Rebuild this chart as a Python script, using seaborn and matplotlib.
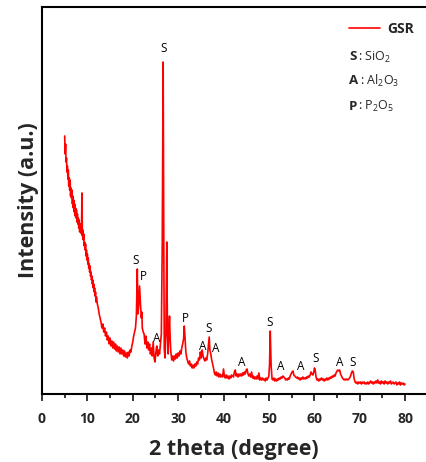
import matplotlib
matplotlib.use("Agg")
import matplotlib.pyplot as plt
import seaborn as sns
import pandas as pd

# ---- data (2theta in degrees, intensity in arbitrary units) ----
two_theta = [
    5.0, 5.1, 5.2, 5.3, 5.4, 5.5, 5.6, 5.7, 5.8, 5.9, 6.0, 6.1, 6.2, 6.3, 6.4, 6.5, 6.6, 6.7, 6.8, 6.9,
    7.0, 7.1, 7.2, 7.3, 7.4, 7.5, 7.6, 7.7, 7.8, 7.9, 8.0, 8.1, 8.2, 8.3, 8.4, 8.5, 8.6, 8.7, 8.8, 8.9,
    9.0, 9.1, 9.2, 9.3, 9.4, 9.5, 9.6, 9.7, 9.8, 9.9, 10.0, 10.1, 10.2, 10.3, 10.4, 10.5, 10.6, 10.7, 10.8, 10.9,
    11.0, 11.1, 11.2, 11.3, 11.4, 11.5, 11.6, 11.7, 11.8, 11.9, 12.0, 12.2, 12.4, 12.6, 12.8, 13.0, 13.2, 13.4, 13.6, 13.8,
    14.0, 14.2, 14.4, 14.6, 14.8, 15.0, 15.2, 15.4, 15.6, 15.8, 16.0, 16.2, 16.4, 16.6, 16.8, 17.0, 17.2, 17.4, 17.6, 17.8,
    18.0, 18.2, 18.4, 18.6, 18.8, 19.0, 19.2, 19.4, 19.6, 19.8, 20.0, 20.2, 20.4, 20.6, 20.8, 21.0, 21.15, 21.3, 21.5, 21.7,
    21.9, 22.0, 22.1, 22.3, 22.5, 22.7, 22.9, 23.1, 23.3, 23.5, 23.7, 23.9, 24.1, 24.3, 24.5, 24.7, 24.9, 25.1, 25.3, 25.5,
    25.7, 25.9, 26.1, 26.3, 26.5, 26.7, 26.85, 26.95, 27.1, 27.3, 27.5, 27.65, 27.8, 27.95, 28.1, 28.25, 28.4, 28.6, 28.8, 29.0,
    29.2, 29.4, 29.6, 29.8, 30.0, 30.2, 30.4, 30.6, 30.8, 31.0, 31.2, 31.35, 31.5, 31.7, 31.9, 32.1, 32.3, 32.5, 32.7, 32.9,
    33.1, 33.3, 33.5, 33.7, 33.9, 34.1, 34.3, 34.5, 34.7, 34.9, 35.1, 35.3, 35.5, 35.7, 35.9, 36.1, 36.3, 36.5, 36.7, 36.85,
    37.0, 37.2, 37.4, 37.6, 37.8, 38.0, 38.2, 38.4, 38.6, 38.8, 39.0, 39.2, 39.4, 39.6, 39.8, 40.0, 40.2, 40.4, 40.6, 40.8,
    41.0, 41.2, 41.4, 41.6, 41.8, 42.0, 42.2, 42.4, 42.6, 42.8, 43.0, 43.2, 43.4, 43.6, 43.8, 44.0, 44.2, 44.4, 44.6, 44.8,
    45.0, 45.2, 45.4, 45.6, 45.8, 46.0, 46.2, 46.4, 46.6, 46.8, 47.0, 47.2, 47.4, 47.6, 47.8, 48.0, 48.2, 48.4, 48.6, 48.8,
    49.0, 49.2, 49.4, 49.6, 49.8, 50.0, 50.15, 50.3, 50.5, 50.7, 50.9, 51.1, 51.3, 51.5, 51.7, 51.9, 52.1, 52.3, 52.5, 52.7,
    52.9, 53.1, 53.3, 53.5, 53.7, 53.9, 54.1, 54.3, 54.5, 54.7, 54.9, 55.1, 55.3, 55.5, 55.7, 55.9, 56.1, 56.3, 56.5, 56.7,
    56.9, 57.1, 57.3, 57.5, 57.7, 57.9, 58.1, 58.3, 58.5, 58.7, 58.9, 59.1, 59.3, 59.5, 59.7, 59.9, 60.05, 60.2, 60.4, 60.6,
    60.8, 61.0, 61.2, 61.4, 61.6, 61.8, 62.0, 62.2, 62.4, 62.6, 62.8, 63.0, 63.2, 63.4, 63.6, 63.8, 64.0, 64.2, 64.4, 64.6,
    64.8, 65.0, 65.2, 65.4, 65.6, 65.8, 66.0, 66.2, 66.4, 66.6, 66.8, 67.0, 67.2, 67.4, 67.6, 67.8, 68.0, 68.2, 68.4, 68.6,
    68.8, 69.0, 69.2, 69.4, 69.6, 69.8, 70.0, 70.2, 70.4, 70.6, 70.8, 71.0, 71.2, 71.4, 71.6, 71.8, 72.0, 72.2, 72.4, 72.6,
    72.8, 73.0, 73.2, 73.4, 73.6, 73.8, 74.0, 74.2, 74.4, 74.6, 74.8, 75.0, 75.2, 75.4, 75.6, 75.8, 76.0, 76.2, 76.4, 76.6,
    76.8, 77.0, 77.2, 77.4, 77.6, 77.8, 78.0, 78.2, 78.4, 78.6, 78.8, 79.0, 79.2, 79.4, 79.6, 79.8, 80.0,
]
intensity = [
    258, 240, 250, 232, 236, 222, 228, 215, 224, 208, 216, 204, 214, 198, 206, 196, 204, 190, 198, 186,
    194, 182, 190, 178, 186, 176, 184, 172, 180, 170, 176, 166, 174, 162, 170, 164, 170, 160, 201, 158,
    164, 154, 160, 148, 152, 144, 150, 138, 144, 134, 140, 130, 136, 126, 130, 122, 128, 118, 122, 114,
    118, 110, 114, 106, 110, 102, 106, 98, 102, 92, 97, 90, 86, 80, 76, 72, 66, 70, 62, 66,
    58, 62, 54, 58, 50, 56, 48, 53, 46, 52, 45, 50, 43, 48, 42, 47, 40, 46, 40, 44,
    38, 43, 37, 41, 36, 42, 38, 44, 42, 48, 52, 58, 62, 66, 78, 125, 80, 88, 108, 90,
    76, 82, 66, 62, 60, 50, 58, 46, 52, 44, 50, 40, 46, 38, 52, 36, 32, 42, 48, 38,
    44, 40, 50, 60, 150, 332, 140, 45, 36, 60, 152, 60, 40, 62, 78, 55, 42, 34, 38, 33,
    38, 35, 40, 36, 41, 38, 43, 40, 46, 50, 55, 68, 58, 42, 36, 33, 30, 33, 28, 30,
    26, 29, 26, 30, 28, 32, 30, 36, 34, 42, 36, 44, 38, 35, 33, 36, 34, 40, 50, 57,
    44, 40, 34, 30, 26, 21, 19, 22, 18, 21, 17, 20, 17, 19, 17, 25, 18, 16, 19, 16,
    18, 15, 18, 16, 19, 18, 17, 22, 24, 18, 20, 17, 20, 18, 20, 18, 21, 19, 22, 20,
    24, 25, 20, 18, 20, 17, 22, 16, 18, 15, 17, 15, 18, 15, 21, 14, 16, 14, 16, 14,
    15, 13, 16, 14, 16, 18, 30, 63, 28, 15, 14, 16, 13, 15, 13, 15, 14, 16, 15, 17,
    16, 18, 17, 16, 14, 15, 14, 16, 15, 18, 20, 22, 23, 19, 18, 17, 16, 17, 15, 16,
    14, 16, 15, 17, 15, 16, 15, 17, 16, 18, 17, 19, 22, 20, 19, 22, 26, 24, 17, 14,
    15, 13, 15, 14, 16, 14, 15, 13, 15, 14, 16, 14, 16, 15, 17, 16, 18, 17, 19, 18,
    21, 23, 24, 23, 24, 20, 18, 16, 15, 14, 15, 14, 15, 14, 15, 16, 18, 21, 23, 22,
    15, 12, 11, 12, 10, 12, 11, 12, 10, 12, 11, 12, 10, 11, 10, 12, 10, 11, 13, 11,
    12, 10, 12, 11, 13, 11, 14, 11, 12, 10, 13, 11, 12, 10, 13, 11, 12, 10, 12, 11,
    13, 10, 11, 12, 10, 11, 12, 9, 11, 10, 12, 9, 11, 10, 11, 9, 10,
]

# phase labels: (letter, 2theta, intensity position)
label_letters = ["S", "S", "P", "A", "P", "A", "S", "A", "A", "S", "A", "A", "S", "A", "S"]
label_x = [26.9, 20.7, 22.3, 25.3, 31.5, 35.4, 36.8, 38.3, 44.1, 50.2, 52.7, 57.1, 60.2, 65.7, 68.5]
label_y = [346, 133, 118, 55, 75, 47, 65, 46, 31, 72, 28, 28, 35, 32, 31]

series_name = "GSR"
phase_codes = ["S", "A", "P"]
phase_names = ["SiO$_\\mathregular{2}$", "Al$_\\mathregular{2}$O$_\\mathregular{3}$", "P$_\\mathregular{2}$O$_\\mathregular{5}$"]

x_ticks = [0, 10, 20, 30, 40, 50, 60, 70, 80]

# ---- figure ----
sns.set_theme(style="white")
plt.rcParams["font.family"] = ["Open Sans", "DejaVu Sans"]
plt.rcParams["mathtext.fontset"] = "custom"
plt.rcParams["mathtext.rm"] = "Open Sans"

fig = plt.figure(figsize=(4.26, 4.62), dpi=100)
ax = fig.add_axes([42 / 426, 68 / 462, 1 - 42 / 426, 387 / 462])

df = pd.DataFrame({"two_theta": two_theta, "intensity": intensity})
sns.lineplot(data=df, x="two_theta", y="intensity", color="#ff0000", linewidth=1.2,
             estimator=None, sort=False, label=series_name, ax=ax)

for letter, lx, ly in zip(label_letters, label_x, label_y):
    ax.text(lx, ly, letter, ha="center", va="center", fontsize=8.5, color="black")

ax.set_xlim(0, 384 / 4.5375)
ax.set_ylim(0, 387)
ax.set_xticks(x_ticks)
ax.set_xticks(range(5, 85, 10), minor=True)
ax.set_yticks([])
ax.tick_params(axis="x", which="major", direction="out", length=5, width=1.3, bottom=True,
               labelsize=10, pad=8)
ax.tick_params(axis="x", which="minor", direction="out", length=3, width=1.3, bottom=True)
for lab in ax.get_xticklabels():
    lab.set_fontweight("bold")

for side in ["left", "bottom", "top"]:
    ax.spines[side].set_visible(True)
    ax.spines[side].set_linewidth(1.5)
    ax.spines[side].set_color("black")
ax.spines["right"].set_visible(False)

ax.set_xlabel("2 theta (degree)", fontsize=15.5, fontweight="bold", labelpad=9)
ax.set_ylabel("Intensity (a.u.)", fontsize=15.5, fontweight="bold", labelpad=2)

leg = ax.legend(loc="center left", bbox_to_anchor=(349 / 426, 1 - 29 / 462),
                bbox_transform=fig.transFigure, frameon=False, handlelength=2.2,
                handletextpad=0.55, borderpad=0, borderaxespad=0, prop={"size": 10, "weight": "bold"})

rows_y = [57, 81, 106]
colon_x = [357.5, 359.5, 357.5]
for code, name, ry, cx in zip(phase_codes, phase_names, rows_y, colon_x):
    fig.text(349 / 426, 1 - ry / 462, code, ha="left", va="center", fontsize=9.5, fontweight="bold")
    fig.text(cx / 426, 1 - ry / 462, ": " + name, ha="left", va="center", fontsize=9)

fig.savefig("out.png", dpi=100)
